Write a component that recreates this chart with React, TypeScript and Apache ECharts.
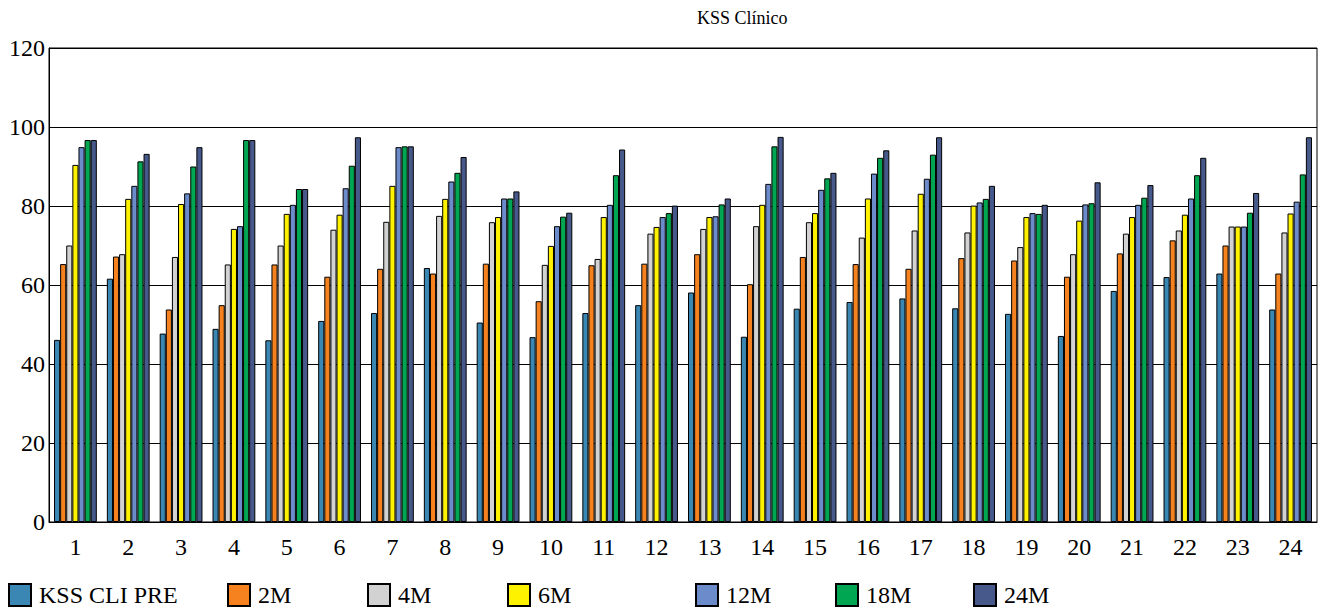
import React, { useEffect, useRef } from "react";
import * as echarts from "echarts";

const categories = ["1","2","3","4","5","6","7","8","9","10","11","12","13","14","15","16","17","18","19","20","21","22","23","24"];
const seriesNames = ["KSS CLI PRE", "2M", "4M", "6M", "12M", "18M", "24M"];
const colors = ["#3B87B3", "#F5821F", "#D2D2D2", "#FFF200", "#6C8BCB", "#00A651", "#46598A"];

const pre = [46.1, 61.6, 47.7, 48.9, 46.0, 50.9, 52.9, 64.3, 50.5, 46.8, 52.9, 54.9, 58.1, 46.9, 54.0, 55.7, 56.6, 54.1, 52.7, 47.1, 58.5, 62.0, 62.9, 53.8];
const m2 = [65.3, 67.2, 53.8, 54.9, 65.2, 62.1, 64.1, 62.9, 65.4, 55.9, 65.0, 65.4, 67.8, 60.2, 67.1, 65.3, 64.1, 66.8, 66.2, 62.1, 68.0, 71.3, 70.0, 62.9];
const m4 = [70.0, 67.8, 67.1, 65.2, 70.0, 74.0, 76.0, 77.5, 75.9, 65.1, 66.6, 73.0, 74.2, 74.9, 75.9, 72.0, 73.8, 73.3, 69.6, 67.8, 73.0, 73.8, 74.8, 73.3];
const m6 = [90.4, 81.8, 80.5, 74.2, 78.0, 77.8, 85.1, 81.8, 77.2, 69.9, 77.2, 74.7, 77.2, 80.3, 78.2, 81.9, 83.1, 80.1, 77.2, 76.3, 77.2, 77.8, 74.8, 78.1];
const m12 = [94.9, 85.1, 83.2, 74.9, 80.3, 84.5, 94.9, 86.2, 81.9, 74.9, 80.3, 77.2, 77.4, 85.6, 84.1, 88.2, 86.9, 80.9, 78.2, 80.4, 80.3, 81.9, 74.8, 81.1];
const m18 = [96.7, 91.3, 90.0, 96.7, 84.3, 90.2, 95.1, 88.4, 81.9, 77.3, 87.8, 78.2, 80.4, 95.1, 87.0, 92.2, 93.0, 81.8, 78.0, 80.7, 82.1, 87.8, 78.3, 88.0];
const m24 = [96.7, 93.2, 94.9, 96.7, 84.3, 97.4, 95.1, 92.4, 83.7, 78.3, 94.3, 80.1, 81.9, 97.5, 88.4, 94.1, 97.4, 85.1, 80.3, 86.0, 85.3, 92.2, 83.3, 97.4];
const yTicks = [0, 20, 40, 60, 80, 100, 120];

const allData = [pre, m2, m4, m6, m12, m18, m24];
const legendLefts = [8, 227, 367, 507, 695, 835, 973];

const FONT = "Liberation Serif";

export default function App() {
  const ref = useRef<HTMLDivElement>(null);
  useEffect(() => {
    if (!ref.current) return;
    const chart = echarts.init(ref.current, undefined, { renderer: "svg" });
    chart.setOption({
      animation: false,
      backgroundColor: "#ffffff",
      textStyle: { fontFamily: FONT },
      title: {
        text: "KSS Clínico",
        left: 697,
        top: 9,
        padding: 0,
        textStyle: { fontFamily: FONT, fontSize: 18, fontWeight: "normal", color: "#000" },
      },
      legend: seriesNames.map((n, i) => ({
        data: [n],
        left: legendLefts[i],
        top: 583,
        padding: 0,
        itemWidth: 22,
        itemHeight: 22,
        itemGap: 0,
        icon: "rect",
        textStyle: { fontFamily: FONT, fontSize: 24, color: "#000", padding: [0, 0, 0, 3] },
        selectedMode: false,
      })),
      grid: {
        left: 49,
        right: 5,
        top: 48,
        bottom: 88,
        show: true,
        borderColor: "#000",
        borderWidth: 1,
        backgroundColor: "transparent",
      },
      xAxis: {
        type: "category",
        data: categories,
        axisLine: { lineStyle: { color: "#000", width: 1 } },
        axisTick: { show: false },
        axisLabel: { fontFamily: FONT, fontSize: 24, color: "#000", margin: 13 },
      },
      yAxis: {
        type: "value",
        min: yTicks[0],
        max: yTicks[yTicks.length - 1],
        interval: 20,
        axisLine: { show: true, lineStyle: { color: "#000", width: 1 } },
        axisTick: { show: false },
        axisLabel: { fontFamily: FONT, fontSize: 24, color: "#000", margin: 4 },
        splitLine: { show: true, lineStyle: { color: "#000", width: 1 } },
      },
      series: seriesNames.map((n, i) => ({
        name: n,
        type: "bar",
        data: allData[i],
        barGap: "0%",
        barCategoryGap: "19%",
        itemStyle: { color: colors[i], borderColor: "#000", borderWidth: 1 },
      })),
    });
    return () => chart.dispose();
  }, []);
  return <div ref={ref} style={{ width: 1322, height: 610, position: "absolute", left: 0, top: 0 }} />;
}
